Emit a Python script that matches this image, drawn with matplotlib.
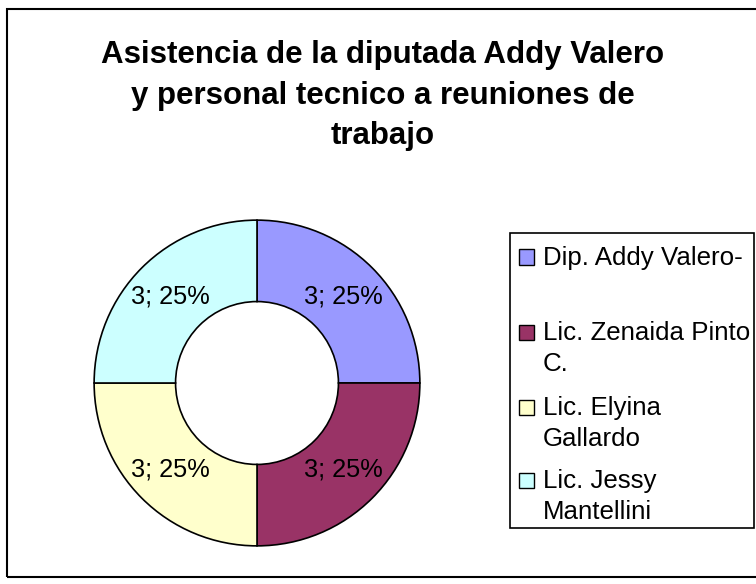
import matplotlib
matplotlib.use("Agg")
import matplotlib.pyplot as plt
from matplotlib.patches import Rectangle

# Data
categories = ["Dip. Addy Valero-", "Lic. Zenaida Pinto C.", "Lic. Elyina Gallardo", "Lic. Jessy Mantellini"]
legend_labels = ["Dip. Addy Valero-\n ", "Lic. Zenaida Pinto\nC.", "Lic. Elyina\nGallardo", "Lic. Jessy\nMantellini"]
values = [3, 3, 3, 3]
colors = ["#9999FF", "#993366", "#FFFFCC", "#CCFFFF"]
title = "Asistencia de la diputada Addy Valero\ny personal tecnico a reuniones de\ntrabajo"

W, H = 756, 584
fig = plt.figure(figsize=(W / 100, H / 100), dpi=100)
fig.patch.set_facecolor("white")
plt.rcParams["font.family"] = ["Liberation Sans", "DejaVu Sans"]

def fx(px):
    return px / W

def fy(py):
    return 1 - py / H

# Outer chart frame
fig.add_artist(Rectangle((fx(7), fy(577)), fx(800), (577 - 9) / H, transform=fig.transFigure,
                         fill=False, edgecolor="black", linewidth=1.5))

# Donut axes
cx, cy, r = 257, 383, 164.5
ax = fig.add_axes([fx(cx - r), fy(cy + r), 2 * r / W, 2 * r / H])
total = sum(values)
wedges, texts = ax.pie(values, colors=colors, startangle=90, counterclock=False, radius=1,
                       wedgeprops=dict(width=0.5, edgecolor="black", linewidth=1.2),
                       labels=[f"{v}; {v / total * 100:.0f}%" for v in values],
                       labeldistance=0.75, textprops=dict(fontsize=18.3, color="black"))
for t in texts:
    t.set_ha("center")
    t.set_va("center")
ax.set_xlim(-1.01, 1.01)
ax.set_ylim(-1.01, 1.01)
ax.set_aspect("equal")
ax.axis("off")

# Title
fig.text(fx(383), fy(40), title, ha="center", va="top", fontsize=22.5, fontweight="bold",
         linespacing=1.46)

# Legend box
lx0, ly0, lx1, ly1 = 510, 233, 754, 528
fig.add_artist(Rectangle((fx(lx0), fy(ly1)), fx(lx1 - lx0), (ly1 - ly0) / H, transform=fig.transFigure,
                         fill=False, edgecolor="black", linewidth=1.2))
entry_y = [257, 332, 407, 480]
for lab, col, ey in zip(legend_labels, colors, entry_y):
    fig.add_artist(Rectangle((fx(519), fy(ey + 7.5)), fx(15), 15 / H, transform=fig.transFigure,
                             facecolor=col, edgecolor="black", linewidth=1.0))
    fig.text(fx(543), fy(ey - 11), lab, ha="left", va="top", fontsize=18.6, linespacing=1.36)

fig.savefig("out.png", dpi=100)
